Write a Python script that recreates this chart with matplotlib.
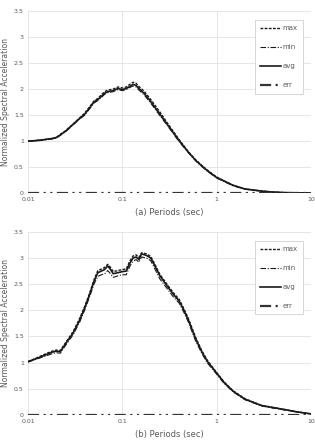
import numpy as np
import matplotlib.pyplot as plt

# (a) periods and spectral values
Ta = [0.01, 0.012, 0.015, 0.018, 0.02, 0.022, 0.025, 0.03, 0.035, 0.04, 0.045, 0.05,
      0.055, 0.06, 0.065, 0.07, 0.075, 0.08, 0.09, 0.1, 0.11, 0.12, 0.13, 0.14,
      0.15, 0.17, 0.2, 0.25, 0.3, 0.4, 0.5, 0.6, 0.7, 0.8, 1.0, 1.5, 2.0, 3.0,
      4.0, 5.0, 7.0, 10.0]
avg_a = [1.00, 1.01, 1.03, 1.05, 1.07, 1.12, 1.19, 1.32, 1.43, 1.52, 1.64, 1.75,
         1.80, 1.86, 1.92, 1.95, 1.96, 1.97, 2.01, 1.99, 2.01, 2.05, 2.09, 2.07,
         2.01, 1.92, 1.76, 1.52, 1.32, 1.01, 0.79, 0.63, 0.52, 0.43, 0.30, 0.15, 0.08, 0.04,
         0.02, 0.012, 0.005, 0.002]
max_a = [1.00, 1.01, 1.03, 1.05, 1.07, 1.13, 1.20, 1.33, 1.44, 1.54, 1.66, 1.77,
         1.82, 1.89, 1.95, 1.98, 1.99, 2.00, 2.04, 2.02, 2.04, 2.09, 2.13, 2.11,
         2.05, 1.96, 1.80, 1.56, 1.35, 1.03, 0.80, 0.64, 0.53, 0.44, 0.31, 0.15, 0.08, 0.04,
         0.02, 0.012, 0.005, 0.002]
min_a = [1.00, 1.00, 1.02, 1.04, 1.06, 1.11, 1.18, 1.31, 1.42, 1.50, 1.62, 1.73,
         1.78, 1.84, 1.90, 1.93, 1.94, 1.95, 1.99, 1.97, 1.99, 2.03, 2.06, 2.04,
         1.98, 1.89, 1.73, 1.49, 1.30, 0.99, 0.78, 0.62, 0.51, 0.42, 0.29, 0.14, 0.08, 0.04,
         0.02, 0.012, 0.005, 0.002]
err_a = [0.0] * len(Ta)

# (b)
Tb = [0.01, 0.012, 0.015, 0.018, 0.02, 0.022, 0.025, 0.03, 0.035, 0.04, 0.045, 0.05,
      0.055, 0.06, 0.065, 0.07, 0.075, 0.08, 0.09, 0.1, 0.11, 0.12, 0.13, 0.14,
      0.15, 0.16, 0.18, 0.2, 0.22, 0.25, 0.3, 0.35, 0.4, 0.45, 0.5, 0.6, 0.7, 0.8,
      1.0, 1.2, 1.5, 2.0, 3.0, 4.0, 5.0, 7.0, 10.0]
avg_b = [1.02, 1.07, 1.14, 1.20, 1.22, 1.21, 1.36, 1.56, 1.80, 2.05, 2.30, 2.55,
         2.72, 2.75, 2.78, 2.85, 2.78, 2.70, 2.72, 2.74, 2.75, 2.90, 3.00, 3.02,
         2.97, 3.08, 3.05, 3.00, 2.86, 2.66, 2.46, 2.30, 2.18, 2.00, 1.82, 1.45, 1.20, 1.02,
         0.80, 0.62, 0.45, 0.30, 0.18, 0.14, 0.11, 0.06, 0.02]
max_b = [1.02, 1.08, 1.16, 1.22, 1.24, 1.23, 1.38, 1.59, 1.83, 2.08, 2.33, 2.58,
         2.76, 2.79, 2.82, 2.88, 2.82, 2.74, 2.76, 2.78, 2.79, 2.94, 3.04, 3.06,
         3.01, 3.10, 3.08, 3.03, 2.89, 2.69, 2.49, 2.33, 2.21, 2.03, 1.85, 1.48, 1.22, 1.04,
         0.81, 0.63, 0.46, 0.31, 0.18, 0.14, 0.11, 0.06, 0.02]
min_b = [1.01, 1.06, 1.12, 1.17, 1.19, 1.18, 1.33, 1.53, 1.76, 2.01, 2.26, 2.50,
         2.65, 2.68, 2.70, 2.76, 2.70, 2.63, 2.66, 2.68, 2.68, 2.84, 2.94, 2.97,
         2.92, 3.02, 3.00, 2.95, 2.80, 2.60, 2.41, 2.25, 2.14, 1.96, 1.78, 1.41, 1.17, 0.99,
         0.78, 0.60, 0.44, 0.29, 0.17, 0.13, 0.10, 0.06, 0.02]
err_b = [0.0] * len(Tb)

panels = [(Ta, max_a, min_a, avg_a, err_a, "(a) Periods (sec)"),
          (Tb, max_b, min_b, avg_b, err_b, "(b) Periods (sec)")]
rects = [[0.089, 0.561, 0.898, 0.414], [0.089, 0.057, 0.898, 0.416]]

txt = "#595959"
grid = "#e2e2e2"
ink = "#1a1a1a"

fig = plt.figure(figsize=(3.15, 4.4), dpi=100)

for (T, mx, mn, av, er, xl), r in zip(panels, rects):
    ax = fig.add_axes(r)
    ax.plot(T, mx, color=ink, lw=1.0, dashes=(2, 1), label="max")
    ax.plot(T, mn, color=ink, lw=0.8, dashes=(5, 1.5, 1, 1.5), label="min")
    ax.plot(T, av, color=ink, lw=1.2, label="avg")
    ax.plot(T, er, color="#333333", lw=1.6, dashes=(5, 2, 1, 2, 1, 2), label="err")
    ax.set_xscale("log")
    ax.set_xlim(0.01, 10)
    ax.set_ylim(0, 3.5)
    ax.set_yticks(np.arange(0, 3.51, 0.5))
    ax.set_yticklabels(["0", "0.5", "1", "1.5", "2", "2.5", "3", "3.5"])
    ax.set_xticks([0.01, 0.1, 1, 10])
    ax.set_xticklabels(["0.01", "0.1", "1", "10"])
    ax.minorticks_off()
    ax.grid(True, color=grid, lw=0.6)
    ax.set_axisbelow(True)
    for s in ax.spines.values():
        s.set_visible(False)
    ax.axvline(10, color=grid, lw=0.6, zorder=0)
    ax.tick_params(length=0, labelsize=4.5, labelcolor=txt, pad=3)
    ax.set_xlabel(xl, fontsize=6, color=txt, labelpad=4)
    ax.set_ylabel("Normalized Spectral Acceleration", fontsize=5.5, color=txt, labelpad=3)
    leg = ax.legend(loc="upper right", bbox_to_anchor=(0.985, 0.97), fontsize=5,
                    labelspacing=1.85, handlelength=3.0, handletextpad=0.2,
                    borderpad=0.8, fancybox=False, framealpha=1)
    leg.get_frame().set_edgecolor("#d0d0d0")
    leg.get_frame().set_linewidth(0.6)
    for t in leg.get_texts():
        t.set_color(txt)

fig.savefig("out.png", dpi=100)
